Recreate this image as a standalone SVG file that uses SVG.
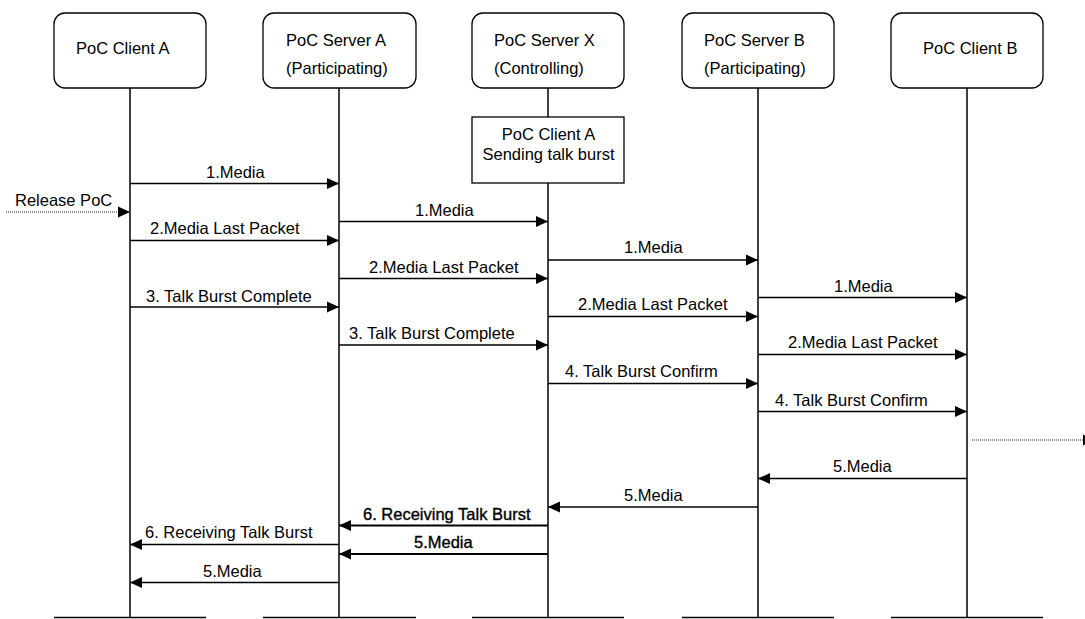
<svg xmlns="http://www.w3.org/2000/svg" width="1085" height="619" viewBox="0 0 1085 619">
<style>
text{font-family:"Liberation Sans",Arial,sans-serif;font-size:16.5px;fill:#000}
.box{fill:#fff;stroke:#000;stroke-width:1.3}
.life{stroke:#000;stroke-width:1.5;fill:none}
.base{stroke:#000;stroke-width:1.3}
.msg{stroke:#000;stroke-width:1.3;fill:none;marker-end:url(#ah)}
.msgb{stroke:#000;stroke-width:2;fill:none;marker-end:url(#ah)}
.dot{stroke:#222;stroke-width:1;stroke-dasharray:1,1;fill:none;marker-end:url(#ah)}
.bt{stroke:#000;stroke-width:0.35}
.c{text-anchor:middle}
</style>
<defs>
<marker id="ah" markerUnits="userSpaceOnUse" markerWidth="12" markerHeight="12" refX="12" refY="6" orient="auto">
<path d="M0,0.5 L12,6 L0,11.5 z" fill="#000"/>
</marker>
</defs>
<g id="lifelines">
<line class="life" x1="130" y1="88" x2="130" y2="618"/>
<line class="life" x1="339" y1="88" x2="339" y2="618"/>
<line class="life" x1="548" y1="88" x2="548" y2="117"/>
<line class="life" x1="548" y1="183" x2="548" y2="618"/>
<line class="life" x1="758" y1="88" x2="758" y2="618"/>
<line class="life" x1="967" y1="88" x2="967" y2="618"/>
<line class="base" x1="54" y1="617.5" x2="206" y2="617.5"/>
<line class="base" x1="263" y1="617.5" x2="416" y2="617.5"/>
<line class="base" x1="472" y1="617.5" x2="624" y2="617.5"/>
<line class="base" x1="682" y1="617.5" x2="834" y2="617.5"/>
<line class="base" x1="891" y1="617.5" x2="1043" y2="617.5"/>
</g>
<g id="clientA">
<rect class="box" x="54" y="13" width="152" height="75" rx="11"/>
<text x="76" y="54">PoC Client A</text>
</g>
<g id="serverA">
<rect class="box" x="263" y="13" width="153" height="75" rx="11"/>
<text x="286" y="46">PoC Server A</text>
<text x="286" y="74">(Participating)</text>
</g>
<g id="serverX">
<rect class="box" x="472" y="13" width="152" height="75" rx="11"/>
<text x="494" y="46">PoC Server X</text>
<text x="494" y="74">(Controlling)</text>
</g>
<g id="serverB">
<rect class="box" x="682" y="13" width="152" height="75" rx="11"/>
<text x="704" y="46">PoC Server B</text>
<text x="704" y="74">(Participating)</text>
</g>
<g id="clientB">
<rect class="box" x="891" y="13" width="152" height="75" rx="11"/>
<text x="923" y="54">PoC Client B</text>
</g>
<g id="note">
<rect class="box" x="472" y="117" width="152" height="66"/>
<text class="c" x="548.5" y="140">PoC Client A</text>
<text class="c" x="548.5" y="160">Sending talk burst</text>
</g>
<g id="connectors">
<line class="msg" x1="130" y1="183.5" x2="339" y2="183.5"/>
<text x="206" y="178">1.Media</text>
<line class="dot" x1="6" y1="212" x2="130" y2="212"/>
<text x="15" y="206">Release PoC</text>
<line class="msg" x1="130" y1="240.5" x2="339" y2="240.5"/>
<text x="150" y="234">2.Media Last Packet</text>
<line class="msg" x1="130" y1="307" x2="339" y2="307"/>
<text x="146" y="301.5">3. Talk Burst Complete</text>

<line class="msg" x1="339" y1="221.5" x2="548" y2="221.5"/>
<text x="415" y="216">1.Media</text>
<line class="msg" x1="339" y1="278.5" x2="548" y2="278.5"/>
<text x="369" y="272.5">2.Media Last Packet</text>
<line class="msg" x1="339" y1="345" x2="548" y2="345"/>
<text x="349" y="339">3. Talk Burst Complete</text>

<line class="msg" x1="548" y1="260" x2="758" y2="260"/>
<text x="624" y="253">1.Media</text>
<line class="msg" x1="548" y1="316.5" x2="758" y2="316.5"/>
<text x="578" y="310">2.Media Last Packet</text>
<line class="msg" x1="548" y1="383.5" x2="758" y2="383.5"/>
<text x="565" y="376.5">4. Talk Burst Confirm</text>

<line class="msg" x1="758" y1="297.5" x2="967" y2="297.5"/>
<text x="834" y="291.5">1.Media</text>
<line class="msg" x1="758" y1="354.5" x2="967" y2="354.5"/>
<text x="788" y="348">2.Media Last Packet</text>
<line class="msg" x1="758" y1="411.5" x2="967" y2="411.5"/>
<text x="775" y="405.5">4. Talk Burst Confirm</text>

<line class="dot" x1="972" y1="440" x2="1095" y2="440"/>

<line class="msg" x1="967" y1="478.5" x2="758" y2="478.5"/>
<text x="833" y="471.5">5.Media</text>
<line class="msg" x1="758" y1="507" x2="548" y2="507"/>
<text x="624" y="500.5">5.Media</text>

<line class="msgb" x1="548" y1="525.5" x2="339" y2="525.5"/>
<text class="bt" x="363" y="520">6. Receiving Talk Burst</text>
<line class="msgb" x1="548" y1="554" x2="339" y2="554"/>
<text class="bt" x="414" y="548">5.Media</text>

<line class="msg" x1="339" y1="544.5" x2="130" y2="544.5"/>
<text x="145" y="538">6. Receiving Talk Burst</text>
<line class="msg" x1="339" y1="582.5" x2="130" y2="582.5"/>
<text x="203" y="576.5">5.Media</text>
</g>
</svg>
